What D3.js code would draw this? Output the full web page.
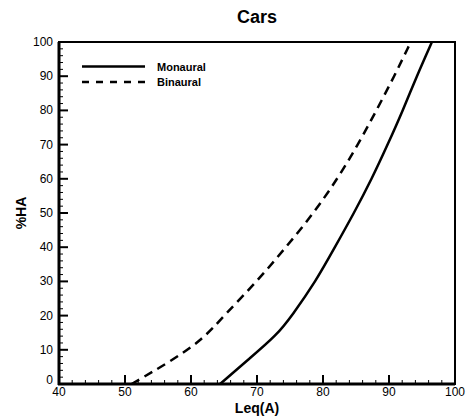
<!DOCTYPE html>
<html><head><meta charset="utf-8">
<script src="https://cdn.jsdelivr.net/npm/d3@7"></script>
<style>body{margin:0;background:#fff}svg{display:block}text{font-family:"Liberation Sans",Arial,sans-serif;fill:#000}</style>
</head><body>
<script>
const title = "Cars";
const xLabel = "Leq(A)";
const yLabel = "%HA";
const seriesNames = ["Monaural", "Binaural"];
const monauralX = [64.4, 68.9, 73.0, 75.3, 78.9, 81.8, 84.7, 87.4, 89.8, 92.1, 94.2, 96.5];
const monauralY = [0, 7.5, 14.3, 20, 30, 40, 50, 60, 70, 80, 90, 100];
const binauralX = [51.0, 56.8, 61.8, 65.0, 70.0, 74.4, 78.6, 82.2, 85.3, 88.1, 90.8, 93.3];
const binauralY = [0, 6.5, 13, 20, 30, 40, 50, 60, 70, 80, 90, 100];
const xTicks = [40, 50, 60, 70, 80, 90, 100];
const yTicks = [0, 10, 20, 30, 40, 50, 60, 70, 80, 90, 100];

const W = 469, H = 420;
const m = {left: 59, right: 14, top: 42, bottom: 36};
const svg = d3.select("body").append("svg").attr("width", W).attr("height", H);
const x = d3.scaleLinear().domain([40, 100]).range([m.left, W - m.right]);
const y = d3.scaleLinear().domain([0, 100]).range([H - m.bottom, m.top]);

svg.append("text").attr("x", (x(40) + x(100)) / 2).attr("y", 23).attr("text-anchor", "middle")
  .attr("font-size", 18).attr("font-weight", "bold").text(title);

const g = svg.append("g");
d3.range(40, 100.01, 2).forEach(v => {
  const maj = v % 10 === 0;
  g.append("line").attr("x1", x(v)).attr("x2", x(v)).attr("y1", y(0)).attr("y2", y(0) - (maj ? 9 : 4))
    .attr("stroke", "#000").attr("stroke-width", maj ? 2 : 1);
});
d3.range(0, 100.01, 2).forEach(v => {
  const maj = v % 10 === 0;
  g.append("line").attr("x1", x(40)).attr("x2", x(40) + (maj ? 9 : 4)).attr("y1", y(v)).attr("y2", y(v))
    .attr("stroke", "#000").attr("stroke-width", maj ? 2 : 1);
});

svg.append("rect").attr("x", x(40)).attr("y", y(100)).attr("width", x(100) - x(40)).attr("height", y(0) - y(100))
  .attr("fill", "none").attr("stroke", "#000").attr("stroke-width", 2);
svg.append("line").attr("x1", x(40)).attr("x2", x(40)).attr("y1", y(100)).attr("y2", y(0) + 1).attr("stroke", "#000").attr("stroke-width", 3);
svg.append("line").attr("x1", x(40) - 1).attr("x2", x(100)).attr("y1", y(0)).attr("y2", y(0)).attr("stroke", "#000").attr("stroke-width", 3);

xTicks.forEach(v => svg.append("text").attr("x", x(v)).attr("y", 396).attr("text-anchor", "middle").attr("font-size", 12).text(v));
yTicks.forEach(v => svg.append("text").attr("x", 53).attr("y", y(v) + (v === 0 ? 0 : 4)).attr("text-anchor", "end").attr("font-size", 12).text(v));

svg.append("text").attr("x", (x(40) + x(100)) / 2).attr("y", 413).attr("text-anchor", "middle")
  .attr("font-size", 14).attr("font-weight", "bold").text(xLabel);
svg.append("text").attr("transform", `translate(26,${(y(0) + y(100)) / 2}) rotate(-90)`).attr("text-anchor", "middle")
  .attr("font-size", 14).attr("font-weight", "bold").text(yLabel);

const line = d3.line().x(d => x(d[0])).y(d => y(d[1])).curve(d3.curveBasis);
const mono = d3.zip(monauralX, monauralY), bin = d3.zip(binauralX, binauralY);
svg.append("path").attr("d", line(mono)).attr("fill", "none").attr("stroke", "#000").attr("stroke-width", 2.5);
svg.append("path").attr("d", line(bin)).attr("fill", "none").attr("stroke", "#000").attr("stroke-width", 2.5).attr("stroke-dasharray", "9,6");

const leg = [{name: seriesNames[0], dash: null, yy: 66.5}, {name: seriesNames[1], dash: "7,7", yy: 82}];
leg.forEach(l => {
  svg.append("line").attr("x1", 82).attr("x2", 145).attr("y1", l.yy).attr("y2", l.yy).attr("stroke", "#000")
    .attr("stroke-width", 2.5).attr("stroke-dasharray", l.dash);
  svg.append("text").attr("x", 157).attr("y", l.yy + 4).attr("font-size", 11).attr("font-weight", "bold").text(l.name);
});
</script>
</body></html>
